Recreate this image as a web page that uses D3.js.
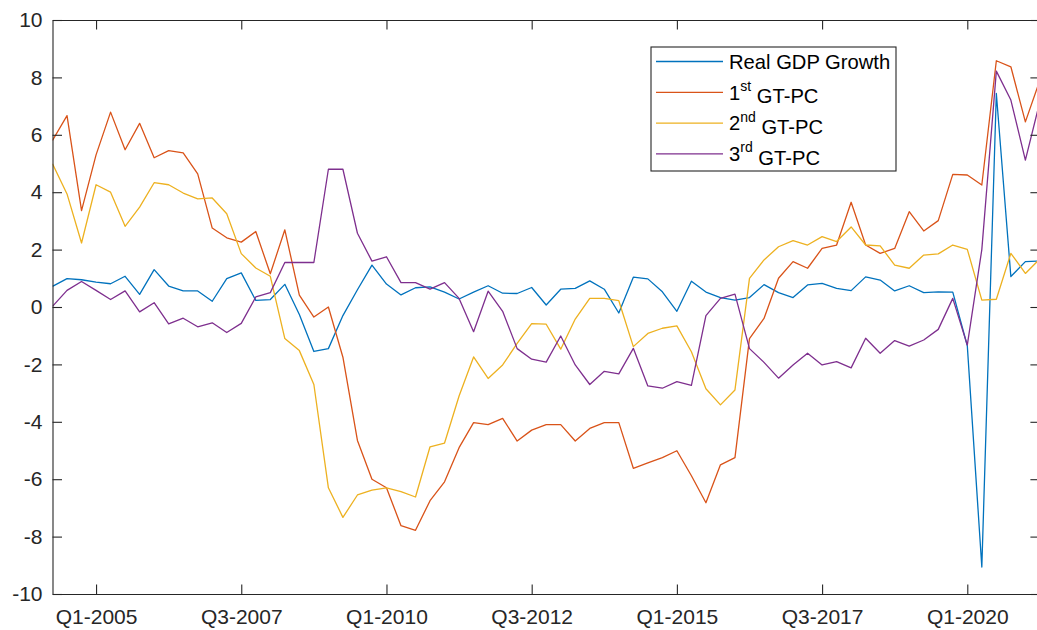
<!DOCTYPE html>
<html>
<head>
<meta charset="utf-8">
<script src="https://cdn.jsdelivr.net/npm/d3@7"></script>
<style>
  html, body { margin: 0; padding: 0; background: #ffffff; }
  svg { display: block; }
  text { font-family: "Liberation Sans", Arial, Helvetica, sans-serif; }
</style>
</head>
<body>
<svg id="chart" width="1037" height="630"></svg>
<script>
// ---------------- DATA ----------------
const quarters = ("Q2-2004 Q3-2004 Q4-2004 Q1-2005 Q2-2005 Q3-2005 Q4-2005 Q1-2006 Q2-2006 Q3-2006 Q4-2006 " +
  "Q1-2007 Q2-2007 Q3-2007 Q4-2007 Q1-2008 Q2-2008 Q3-2008 Q4-2008 Q1-2009 Q2-2009 Q3-2009 Q4-2009 " +
  "Q1-2010 Q2-2010 Q3-2010 Q4-2010 Q1-2011 Q2-2011 Q3-2011 Q4-2011 Q1-2012 Q2-2012 Q3-2012 Q4-2012 " +
  "Q1-2013 Q2-2013 Q3-2013 Q4-2013 Q1-2014 Q2-2014 Q3-2014 Q4-2014 Q1-2015 Q2-2015 Q3-2015 Q4-2015 " +
  "Q1-2016 Q2-2016 Q3-2016 Q4-2016 Q1-2017 Q2-2017 Q3-2017 Q4-2017 Q1-2018 Q2-2018 Q3-2018 Q4-2018 " +
  "Q1-2019 Q2-2019 Q3-2019 Q4-2019 Q1-2020 Q2-2020 Q3-2020 Q4-2020 Q1-2021 Q2-2021").split(" ");

const tickLabels = ["Q1-2005", "Q3-2007", "Q1-2010", "Q3-2012", "Q1-2015", "Q3-2017", "Q1-2020"];
const yTicks = [-10, -8, -6, -4, -2, 0, 2, 4, 6, 8, 10];

const seriesNames = ["Real GDP Growth", "1st GT-PC", "2nd GT-PC", "3rd GT-PC"];

const gdpGrowth = [0.72, 0.99, 0.95, 0.87, 0.81, 1.07, 0.44, 1.30, 0.73, 0.56, 0.56,
  0.20, 0.99, 1.19, 0.23, 0.26, 0.79, -0.26, -1.55, -1.45, -0.30, 0.60, 1.46,
  0.80, 0.42, 0.67, 0.70, 0.52, 0.28, 0.52, 0.74, 0.48, 0.47, 0.68, 0.07,
  0.62, 0.65, 0.91, 0.62, -0.21, 1.04, 0.98, 0.53, -0.15, 0.90, 0.52, 0.33,
  0.24, 0.33, 0.78, 0.50, 0.33, 0.77, 0.82, 0.65, 0.57, 1.05, 0.94, 0.56,
  0.74, 0.50, 0.53, 0.52, -1.35, -9.06, 7.44, 1.06, 1.58, 1.60];

const gtpc1 = [5.80, 6.67, 3.36, 5.30, 6.79, 5.48, 6.40, 5.20, 5.45, 5.37, 4.64,
  2.75, 2.41, 2.26, 2.63, 1.16, 2.69, 0.41, -0.35, 0.00, -1.75, -4.65, -6.00,
  -6.30, -7.62, -7.78, -6.75, -6.09, -4.90, -4.03, -4.10, -3.88, -4.67, -4.29, -4.10,
  -4.10, -4.67, -4.23, -4.03, -4.03, -5.62, -5.43, -5.25, -5.01, -5.88, -6.82, -5.50,
  -5.25, -1.10, -0.40, 1.00, 1.58, 1.35, 2.04, 2.16, 3.65, 2.16, 1.87, 2.04,
  3.32, 2.65, 3.01, 4.62, 4.60, 4.25, 8.58, 8.37, 6.45, 7.90];

const gtpc2 = [4.99, 3.94, 2.23, 4.26, 4.00, 2.81, 3.48, 4.33, 4.26, 3.97, 3.77,
  3.80, 3.25, 1.86, 1.36, 1.07, -1.10, -1.52, -2.70, -6.30, -7.33, -6.55, -6.38,
  -6.30, -6.43, -6.62, -4.87, -4.74, -3.10, -1.74, -2.49, -2.02, -1.27, -0.58, -0.60,
  -1.47, -0.42, 0.30, 0.30, 0.22, -1.38, -0.92, -0.74, -0.66, -1.56, -2.85, -3.41,
  -2.89, 1.00, 1.64, 2.10, 2.31, 2.16, 2.45, 2.28, 2.79, 2.16, 2.13, 1.46,
  1.35, 1.81, 1.85, 2.16, 2.01, 0.24, 0.27, 1.87, 1.17, 1.68];

const gtpc3 = [0.02, 0.58, 0.89, 0.58, 0.26, 0.56, -0.17, 0.15, -0.59, -0.39, -0.69,
  -0.55, -0.89, -0.57, 0.35, 0.50, 1.55, 1.55, 1.55, 4.80, 4.80, 2.57, 1.60,
  1.75, 0.85, 0.85, 0.62, 0.85, 0.30, -0.86, 0.55, -0.15, -1.45, -1.82, -1.92,
  -1.01, -2.02, -2.70, -2.24, -2.33, -1.44, -2.75, -2.83, -2.60, -2.73, -0.30, 0.30,
  0.45, -1.45, -1.93, -2.48, -2.02, -1.61, -2.02, -1.90, -2.12, -1.09, -1.61, -1.17,
  -1.36, -1.15, -0.78, 0.30, -1.33, 2.00, 8.22, 7.21, 5.12, 7.16];

const seriesColors = ["#0072BD", "#D95319", "#EDB120", "#7E2F8E"];

// ---------------- CHART ----------------
const svg = d3.select("#chart");
const W = 1037, H = 630;
const plot = { left: 52.5, right: 1039.9, top: 20, bottom: 594 };
const axisColor = "#262626";

svg.append("rect").attr("width", W).attr("height", H).attr("fill", "#ffffff");

const x = d3.scalePoint().domain(quarters).range([plot.left, plot.right]);
const y = d3.scaleLinear().domain([-10, 10]).range([plot.bottom, plot.top]);

svg.append("defs").append("clipPath").attr("id", "clip")
  .append("rect")
  .attr("x", plot.left).attr("y", plot.top)
  .attr("width", plot.right - plot.left).attr("height", plot.bottom - plot.top);

const allSeries = [gdpGrowth, gtpc1, gtpc2, gtpc3];
const line = d3.line().x((d, i) => x(quarters[i])).y(d => y(d));

const lines = svg.append("g").attr("clip-path", "url(#clip)");
allSeries.forEach((s, k) => {
  lines.append("path")
    .datum(s)
    .attr("fill", "none")
    .attr("stroke", seriesColors[k])
    .attr("stroke-width", 1.3)
    .attr("stroke-linejoin", "round")
    .attr("d", line);
});

// Axes
const fontSize = 21;
const xAxis = d3.axisBottom(x).tickValues(tickLabels).tickSizeInner(-9.5).tickSizeOuter(0).tickPadding(15.5);
const gx = svg.append("g").attr("transform", `translate(0,${plot.bottom})`).call(xAxis);

const xTop = d3.axisTop(x).tickValues(tickLabels).tickSizeInner(-9.5).tickSizeOuter(0).tickFormat("");
const gxt = svg.append("g").attr("transform", `translate(0,${plot.top})`).call(xTop);

const yAxis = d3.axisLeft(y).tickValues(yTicks).tickSizeInner(-9.5).tickSizeOuter(0).tickPadding(10).tickFormat(d3.format("d"));
const gy = svg.append("g").attr("transform", `translate(${plot.left},0)`).call(yAxis);

const yRight = d3.axisRight(y).tickValues(yTicks).tickSizeInner(-9.5).tickSizeOuter(0).tickFormat("");
const gyr = svg.append("g").attr("transform", `translate(${plot.right},0)`).call(yRight);

[gx, gxt, gy, gyr].forEach(g => {
  g.select(".domain").attr("stroke", axisColor).attr("stroke-width", 1.1);
  g.selectAll(".tick line").attr("stroke", axisColor).attr("stroke-width", 1.1);
  g.selectAll(".tick text").attr("fill", axisColor)
    .style("font-size", fontSize + "px")
    .style("font-family", '"Liberation Sans", Arial, sans-serif');
});
gy.selectAll(".tick text").text(d => d < 0 ? "-" + Math.abs(d) : d);

// Legend
const leg = { x: 651, y: 47, w: 245, h: 124 };
const lg = svg.append("g");
lg.append("rect")
  .attr("x", leg.x).attr("y", leg.y).attr("width", leg.w).attr("height", leg.h)
  .attr("fill", "#ffffff").attr("stroke", axisColor).attr("stroke-width", 1.1);

const legParts = [
  { main: "Real GDP Growth" },
  { pre: "1", sup: "st", post: " GT-PC" },
  { pre: "2", sup: "nd", post: " GT-PC" },
  { pre: "3", sup: "rd", post: " GT-PC" }
];
const legFont = 20.2;
legParts.forEach((p, k) => {
  const cy = 61.5 + k * 30.8;
  lg.append("line")
    .attr("x1", leg.x + 5).attr("x2", leg.x + 72)
    .attr("y1", cy).attr("y2", cy)
    .attr("stroke", seriesColors[k]).attr("stroke-width", 1.3);
  const t = lg.append("text")
    .attr("x", leg.x + 78).attr("y", cy)
    .attr("dy", "0.36em")
    .attr("fill", "#000000")
    .style("font-size", legFont + "px");
  if (p.main) {
    t.text(p.main);
  } else {
    t.append("tspan").text(p.pre);
    t.append("tspan").text(p.sup).style("font-size", "14px").attr("dy", "-0.62em");
    t.append("tspan").text(p.post).attr("dy", "0.62em");
  }
});
</script>
</body>
</html>
